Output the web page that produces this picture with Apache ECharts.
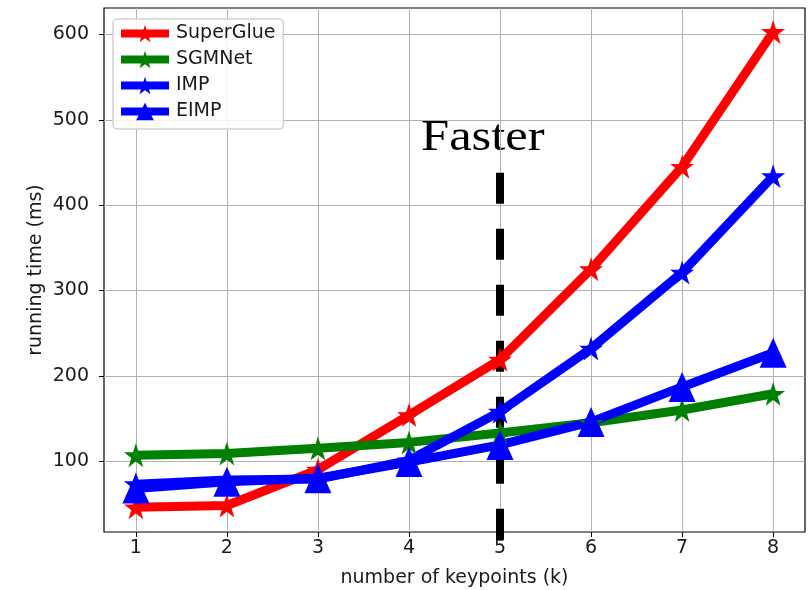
<!DOCTYPE html>
<html><head><meta charset="utf-8">
<script src="https://cdn.jsdelivr.net/npm/echarts@6/dist/echarts.min.js"></script>
<style>html,body{margin:0;padding:0;background:#fff}#c{width:810px;height:590px}</style>
</head><body><div id="c"></div>
<script>
const keypoints = [1, 2, 3, 4, 5, 6, 7, 8];
const superGlue = [46, 48, 90, 154, 219, 325, 445, 603];
const sgmNet = [107, 109, 115, 122, 133, 145, 160, 179];
const imp = [73, 78, 79, 101, 158, 232, 321, 434];
const eimp = [68, 76, 80, 99, 119, 146, 187, 227];
const xTicks = [1, 2, 3, 4, 5, 6, 7, 8];
const yTicks = [100, 200, 300, 400, 500, 600];
const fasterLine = [[5, 438], [5, 8]];

const star = 'path://M50,0 L61.2,34.5 L97.6,34.5 L68.2,55.9 L79.4,90.5 L50,69.1 L20.6,90.5 L31.8,55.9 L2.4,34.5 L38.8,34.5 Z';
const chart = echarts.init(document.getElementById('c'));
const pair = a => a.map((v, i) => [keypoints[i], v]);
const txt = '#1a1a1a';
const font = 'DejaVu Sans';
function mk(name, data, color, symbol, size) {
  return { name, type: 'line', data: pair(data), symbol, symbolSize: size,
    lineStyle: { color, width: 9 }, itemStyle: { color }, z: 3 };
}
chart.setOption({
  animation: false,
  grid: { left: 104, right: 5, top: 8, bottom: 58, show: true, borderColor: '#000', borderWidth: 1.2,
    containLabel: false, outerBoundsMode: 'none' },
  legend: {
    left: 113, top: 19, orient: 'vertical', itemWidth: 48, itemHeight: 22, itemGap: 7,
    padding: [5, 8, 8, 4], borderColor: '#d0d0d0', borderWidth: 1.5, borderRadius: 4,
    backgroundColor: 'rgba(255,255,255,0.85)',
    lineStyle: { width: 8 },
    textStyle: { fontFamily: font, fontSize: 19, color: txt, padding: [0, 0, 0, 2] },
    data: ['SuperGlue', 'SGMNet', 'IMP', 'EIMP']
  },
  xAxis: {
    type: 'value', min: 0.65, max: 8.35, name: 'number of keypoints (k)', nameLocation: 'middle', nameGap: 37,
    nameMoveOverlap: false,
    nameTextStyle: { fontFamily: font, fontSize: 19, color: txt },
    axisLine: { show: false },
    axisTick: { show: true, length: 5, lineStyle: { color: '#000' }, customValues: xTicks },
    axisLabel: { fontFamily: font, fontSize: 19, color: txt, margin: 7, customValues: xTicks },
    splitLine: { show: true, lineStyle: { color: '#b0b0b0', width: 1 } }
  },
  yAxis: {
    type: 'value', min: 17, max: 631, name: 'running time (ms)', nameLocation: 'middle', nameGap: 58,
    nameMoveOverlap: false,
    nameTextStyle: { fontFamily: font, fontSize: 19, color: txt },
    axisLine: { show: false },
    axisTick: { show: true, length: 5, lineStyle: { color: '#000' }, customValues: yTicks },
    axisLabel: { fontFamily: font, fontSize: 19, color: txt, margin: 15, customValues: yTicks },
    splitLine: { show: true, lineStyle: { color: '#b0b0b0', width: 1 } }
  },
  series: [
    mk('SuperGlue', superGlue, '#ff0000', star, 24),
    mk('SGMNet', sgmNet, '#008000', star, 24),
    mk('IMP', imp, '#0000ff', star, 24),
    mk('EIMP', eimp, '#0000ff', 'triangle', [27, 30]),
    { name: 'faster', type: 'line', data: fasterLine, symbol: 'none', clip: false, z: 2,
      lineStyle: { color: '#000', width: 8, type: [31, 25] }, silent: true }
  ],
  graphic: [{ type: 'text', x: 421, y: 116, scaleX: 1.15,
    style: { text: 'Faster', font: '44px "Liberation Serif"', fill: '#000' } }]
});
</script></body></html>
